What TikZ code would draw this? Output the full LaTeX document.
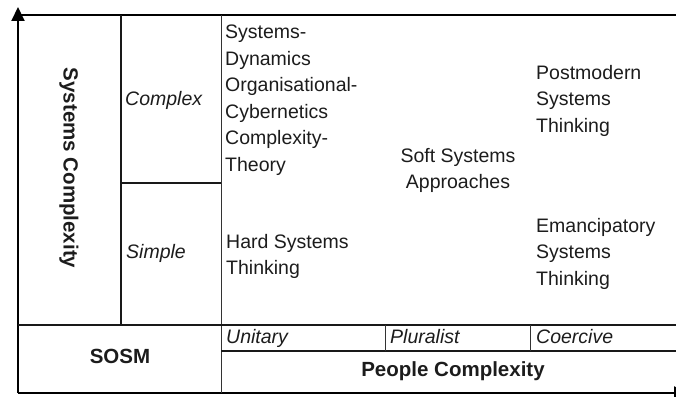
\documentclass[tikz,border=0pt]{standalone}
\usepackage{fontspec}
\setmainfont{Liberation Sans}
\usetikzlibrary{arrows.meta}
\definecolor{ink}{HTML}{1C1C1C}
\begin{document}
\begin{tikzpicture}[x=1pt,y=-1pt,
  frame/.style={line width=2pt,black},
  rule/.style={line width=1.3pt,black!90},
  thin/.style={line width=1pt,black!80},
  axis/.style={line width=2pt,black,-{Triangle[length=14pt,width=13pt]}},
  lbl/.style={inner sep=0pt,text=ink,font=\fontsize{19.5}{26.5}\selectfont},
  blk/.style={lbl,align=left,anchor=north west},
  cat/.style={lbl,font=\fontsize{19.5}{26.5}\selectfont\itshape,anchor=base west},
  head/.style={lbl,font=\fontsize{20.5}{26.5}\selectfont\bfseries,anchor=base}]
\useasboundingbox (0,0) rectangle (676,396);
\clip (0,0) rectangle (676,396);

% outer frame and axes
\coordinate (o) at (18,393);
\coordinate (ytip) at (18,7);
\coordinate (xtip) at (688,393);
\draw[frame] (18,15) -- (676,15);
\draw[axis] (o) -- (ytip);
\draw[axis] (o) -- (xtip);

% grid rules
\draw[rule] (121,15) -- (121,325);
\draw[rule] (121,183) -- (221,183);
\draw[thin] (221,15) -- (221,393);
\draw[rule] (18,325) -- (676,325);
\draw[rule] (221,351) -- (676,351);
\draw[thin] (385,325) -- (385,351);
\draw[thin] (530,325) -- (530,351);

% axis titles
\node[lbl,font=\fontsize{20.5}{26.5}\selectfont\bfseries,rotate=-90] (sc) at (69,168) {Systems Complexity};
\node[head] (sosm) at (120,363) {SOSM};
\node[head] (pc) at (453,376) {People Complexity};

% system categories
\node[cat] (cx) at (125,105) {Complex};
\node[cat] (si) at (126,258) {Simple};

% people categories
\node[cat] (un) at (226,343) {Unitary};
\node[cat] (pl) at (390,343) {Pluralist};
\node[cat] (co) at (536,343) {Coercive};

% methodologies
\node[blk] (m1) at (225,25) {Systems-\\Dynamics\\Organisational-\\Cybernetics\\Complexity-\\Theory};
\node[blk] (m2) at (226,234) {Hard Systems\\Thinking};
\node[lbl,align=center,anchor=north] (m3) at (458,148) {Soft Systems\\Approaches};
\node[blk] (m4) at (536,65) {Postmodern\\Systems\\Thinking};
\node[blk] (m5) at (536,218) {Emancipatory\\Systems\\Thinking};
\end{tikzpicture}
\end{document}
